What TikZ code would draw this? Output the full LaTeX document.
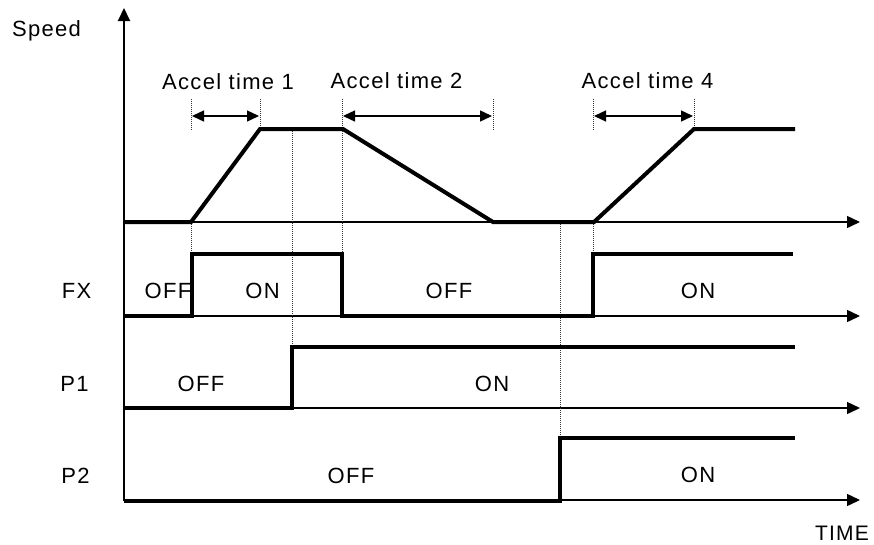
\documentclass[tikz,border=0pt]{standalone}
\usepackage{fontspec}
\setmainfont{Liberation Sans}[LetterSpace=6]
\usetikzlibrary{arrows.meta}
\tikzset{
  axisline/.style={line width=1.4pt,-{Triangle[length=13pt,width=12pt]}},
  sigline/.style={line width=4pt,line join=miter,line cap=butt},
  guide/.style={line width=1pt,dash pattern=on 1pt off 1pt,black!80},
  spanarrow/.style={line width=1.4pt,{Triangle[length=12pt,width=11pt]}-{Triangle[length=12pt,width=11pt]}},
  lbl/.style={font=\fontsize{22}{26}\selectfont,inner sep=0pt,anchor=base}
}
\begin{document}
\begin{tikzpicture}[x=1pt,y=-1pt]
\useasboundingbox (0,0) rectangle (874,544);
% axes
\coordinate (vbot) at (124,501);
\coordinate (vtop) at (124,8);
\draw[line width=2pt,-{Triangle[length=13pt,width=12pt]}] (vbot) -- (vtop);
\foreach \n/\y in {s/222,f/316,p/408,q/500}{
  \coordinate (\n0) at (124,\y);
  \coordinate (\n1) at (860,\y);
  \draw[axisline] (\n0) -- (\n1);
}
% guide lines (dotted)
\foreach \x/\a/\b in {191/99/130, 191/222/254, 260/99/129, 292/129/347, 342/99/254,
                      493/99/130, 560/222/437, 593/99/130, 593/222/254, 694/99/129}{
  \coordinate (ga) at (\x,\a);
  \coordinate (gb) at (\x,\b);
  \draw[guide] (ga) -- (gb);
}
% speed profile
\coordinate (sA) at (124,222);
\coordinate (sB) at (191,222);
\coordinate (sC) at (260,129);
\coordinate (sD) at (343,129);
\coordinate (sE) at (493,222);
\coordinate (sF) at (594,222);
\coordinate (sG) at (694,129);
\coordinate (sH) at (795,129);
\draw[sigline] (sA) -- (sB) -- (sC) -- (sD) -- (sE) -- (sF) -- (sG) -- (sH);
% FX
\coordinate (fA) at (124,316);
\coordinate (fB) at (192,316);
\coordinate (fC) at (192,254);
\coordinate (fD) at (342,254);
\coordinate (fE) at (342,316);
\coordinate (fF) at (593,316);
\coordinate (fG) at (593,254);
\coordinate (fH) at (793,254);
\draw[sigline] (fA) -- (fB) -- (fC) -- (fD) -- (fE) -- (fF) -- (fG) -- (fH);
% P1
\coordinate (pA) at (124,408);
\coordinate (pB) at (292,408);
\coordinate (pC) at (292,347);
\coordinate (pD) at (795,347);
\draw[sigline] (pA) -- (pB) -- (pC) -- (pD);
% P2
\coordinate (qA) at (124,501);
\coordinate (qB) at (560,501);
\coordinate (qC) at (560,438);
\coordinate (qD) at (795,438);
\draw[sigline] (qA) -- (qB) -- (qC) -- (qD);
% accel spans
\coordinate (a1l) at (192,116); \coordinate (a1r) at (259,116);
\coordinate (a2l) at (343,116); \coordinate (a2r) at (492,116);
\coordinate (a4l) at (594,116); \coordinate (a4r) at (693,116);
\draw[spanarrow] (a1l) -- (a1r);
\draw[spanarrow] (a2l) -- (a2r);
\draw[spanarrow] (a4l) -- (a4r);
% labels
\node[lbl] (speed) at (46.5,36) {Speed};
\node[lbl] (acc1) at (228,89) {Accel time 1};
\node[lbl] (acc2) at (396.5,88) {Accel time 2};
\node[lbl] (acc4) at (647.5,88) {Accel time 4};
\node[lbl] (fx) at (76.5,298) {FX};
\node[lbl] (p1) at (74.5,391) {P1};
\node[lbl] (p2) at (75.5,483) {P2};
\node[lbl] (fxoff1) at (168,298) {OFF};
\node[lbl] (fxon1) at (262.5,298) {ON};
\node[lbl] (fxoff2) at (449,298) {OFF};
\node[lbl] (fxon2) at (698,298) {ON};
\node[lbl] (p1off) at (201,391) {OFF};
\node[lbl] (p1on) at (492,391) {ON};
\node[lbl] (p2off) at (351,483) {OFF};
\node[lbl] (p2on) at (698,482) {ON};
\node[lbl,font=\fontsize{21}{25}\selectfont] (time) at (842,540) {TIME};
% redraw FX rise over OFF text
\draw[sigline] (fB) -- (fC);
\end{tikzpicture}
\end{document}
